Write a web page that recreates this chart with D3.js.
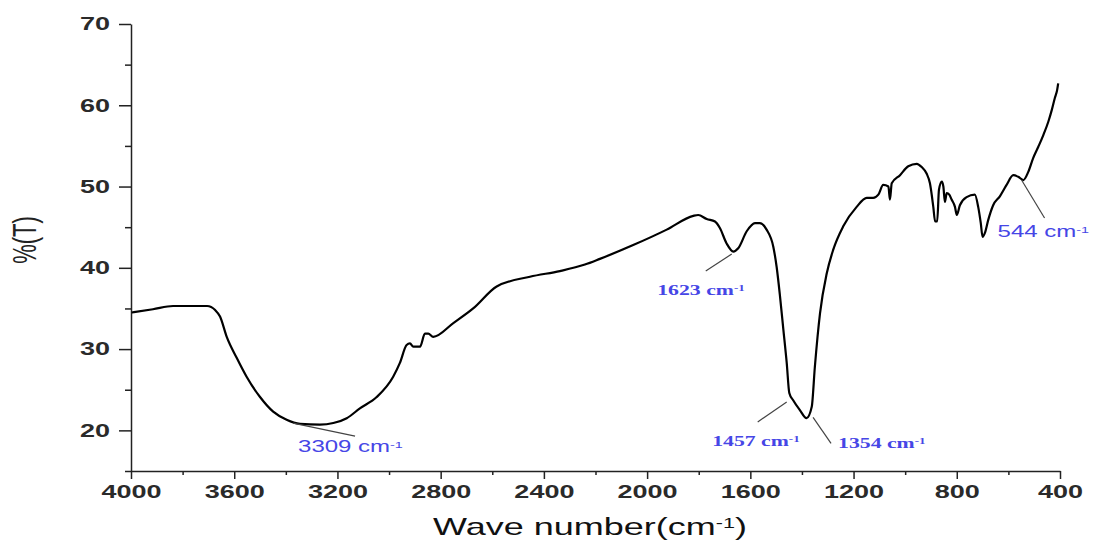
<!DOCTYPE html>
<html>
<head>
<meta charset="utf-8">
<script src="https://cdn.jsdelivr.net/npm/d3@7"></script>
<style>
  body { margin: 0; background: #fff; }
  svg { display: block; }
  .axis path, .axis line { stroke: #222; stroke-width: 1.5; }
  .axis text { font-family: 'Liberation Sans', Arial, sans-serif; font-weight: bold; fill: #2a2a2a; }
</style>
</head>
<body>
<svg class="chart"></svg>
<script>
'use strict';

// FTIR spectrum (wave number in cm-1, transmittance in %)
const wavenumber = [
  3997, 3915, 3837, 3705, 3674, 3655, 3629, 3590, 3552, 3500,
  3449, 3397, 3345, 3268, 3216, 3164, 3113, 3048, 2984, 2958,
  2932, 2919, 2906, 2880, 2861, 2848, 2829, 2751, 2674, 2583,
  2454, 2338, 2241, 2183, 2054, 1924, 1821, 1802, 1769, 1737,
  1718, 1692, 1666, 1647, 1614, 1582, 1563, 1537, 1511, 1498,
  1485, 1472, 1459, 1449, 1434, 1408, 1382, 1362, 1350, 1330,
  1304, 1279, 1240, 1188, 1149, 1124, 1104, 1085, 1065, 1059,
  1052, 1020, 988, 955, 936, 917, 904, 891, 884, 876,
  869, 858, 852, 846, 839, 829, 820, 807, 800, 788,
  762, 730, 717, 707, 700, 691, 678, 659, 633, 607,
  581, 562, 542, 523, 504, 484, 465, 445, 432, 420,
  411, 407,
];
const transmittance = [
  34.5, 34.9, 35.3, 35.3, 34.8, 34.0, 31.5, 28.9, 26.6, 24.1,
  22.3, 21.3, 20.8, 20.7, 20.9, 21.5, 22.7, 24.1, 26.6, 28.3,
  30.5, 30.7, 30.3, 30.3, 31.9, 31.9, 31.5, 33.2, 35.0, 37.7,
  38.9, 39.6, 40.4, 41.1, 42.8, 44.7, 46.4, 46.5, 46.0, 45.7,
  44.9, 43.0, 42.0, 42.4, 44.5, 45.5, 45.5, 44.7, 42.6, 40.1,
  36.5, 32.4, 28.3, 24.6, 23.7, 22.5, 21.5, 22.9, 27.8, 34.4,
  39.3, 42.2, 45.1, 47.5, 48.6, 48.6, 49.0, 50.2, 50.0, 48.4,
  50.4, 51.4, 52.5, 52.8, 52.4, 51.6, 50.4, 47.5, 45.7, 45.7,
  49.6, 50.6, 50.0, 48.1, 49.2, 49.0, 48.4, 47.5, 46.5, 47.7,
  48.7, 49.0, 47.5, 45.5, 43.8, 44.3, 45.9, 47.7, 48.8, 50.2,
  51.4, 51.2, 50.8, 51.8, 53.5, 54.9, 56.3, 58.0, 59.4, 60.9,
  61.9, 62.7,
];

// Peak labels and the point on the curve each leader line touches
const peakLabels = ['3309', '1623', '1457', '1354', '544'];
const peakWn = [3372, 1672, 1459, 1357, 549];
const peakT = [20.9, 41.7, 23.5, 21.6, 50.8];

const xTickValues = [4000, 3600, 3200, 2800, 2400, 2000, 1600, 1200, 800, 400];
const yTickValues = [20, 30, 40, 50, 60, 70];

const W = 1096, H = 542, SX = 1.5; // the picture is stretched sideways, text too
const blue = '#4646e6';

const svg = d3.select('.chart').attr('width', W).attr('height', H);

const x = d3.scaleLinear([4000, 400], [131, 1060]);
const y = d3.scaleLinear([15, 70], [471, 24]);

// minor ticks first, then labelled ones
svg.append('g')
  .attr('class', 'axis')
  .attr('transform', `translate(0,${y(15)})`)
  .call(d3.axisBottom(x).tickValues(d3.range(3800, 400, -400)).tickSize(4).tickFormat(''))
  .call(g => g.select('.domain').remove());
svg.append('g')
  .attr('class', 'axis')
  .attr('transform', `translate(${x(4000)},0)`)
  .call(d3.axisLeft(y).tickValues(d3.range(15, 70, 10)).tickSize(6).tickFormat(''))
  .call(g => g.select('.domain').remove());

const xAxis = svg.append('g')
  .attr('class', 'axis')
  .attr('transform', `translate(0,${y(15)})`)
  .call(d3.axisBottom(x).tickValues(xTickValues).tickFormat(d3.format('d')).tickSize(8).tickSizeOuter(0));
xAxis.selectAll('text')
  .attr('y', 0)
  .attr('dy', '0.71em')
  .style('font-size', '18px')
  .attr('transform', `translate(0,14) scale(${SX},1)`);

const yAxis = svg.append('g')
  .attr('class', 'axis')
  .attr('transform', `translate(${x(4000)},0)`)
  .call(d3.axisLeft(y).tickValues(yTickValues).tickFormat(d3.format('d')).tickSize(12).tickSizeOuter(0));
yAxis.selectAll('text')
  .attr('x', 0)
  .style('font-size', '18px')
  .attr('transform', `translate(-21,0) scale(${SX},1)`);

// spectrum
const spectrum = d3.range(wavenumber.length).map(i => [wavenumber[i], transmittance[i]]);
svg.append('path')
  .datum(spectrum)
  .attr('fill', 'none')
  .attr('stroke', '#000')
  .attr('stroke-width', 2.2)
  .attr('stroke-linejoin', 'round')
  .attr('d', d3.line().x(d => x(d[0])).y(d => y(d[1])).curve(d3.curveMonotoneX));

// leader lines + labels: [line dx, line dy, text dx, text dy, anchor, serif]
const layout = [
  [62, 13, 5, 29, 'start', false],
  [-26, 17, 13, 41, 'end', true],
  [-29, 20, 13, 44, 'end', true],
  [18, 26, 25, 31, 'start', true],
  [23, 38, -24, 57, 'start', false],
];
peakLabels.forEach((lab, i) => {
  const px = x(peakWn[i]), py = y(peakT[i]);
  const [ldx, ldy, tdx, tdy, anchor, serif] = layout[i];
  svg.append('line')
    .attr('x1', px).attr('y1', py)
    .attr('x2', px + ldx).attr('y2', py + ldy)
    .attr('stroke', '#444').attr('stroke-width', 1.2);
  const t = svg.append('text')
    .attr('transform', `translate(${px + tdx},${py + tdy}) scale(${serif ? 1.45 : SX},1)`)
    .attr('text-anchor', anchor)
    .style('font-family', serif ? "'Liberation Serif', 'Times New Roman', serif" : "'Liberation Sans', Arial, sans-serif")
    .style('font-weight', serif ? 'bold' : 'normal')
    .style('font-size', serif ? '15px' : '16px')
    .attr('fill', blue);
  t.append('tspan').text(lab + ' cm');
  t.append('tspan').attr('dy', '-0.45em').style('font-size', '0.6em').text('-1');
});

// axis titles
const title = svg.append('text')
  .attr('transform', `translate(590,535) scale(${SX},1)`)
  .attr('text-anchor', 'middle')
  .style('font-family', "'Liberation Sans', Arial, sans-serif")
  .style('font-size', '24px')
  .attr('fill', '#111');
title.append('tspan').text('Wave number(cm');
title.append('tspan').attr('dy', '-0.5em').style('font-size', '0.6em').text('-1');
title.append('tspan').attr('dy', '0.3em').text(')');

svg.append('text')
  .attr('transform', `translate(36,240) scale(${SX},1) rotate(-90)`)
  .attr('text-anchor', 'middle')
  .style('font-family', "'Liberation Sans', Arial, sans-serif")
  .style('font-size', '22px')
  .attr('fill', '#222')
  .text('%(T)');
</script>
</body>
</html>
